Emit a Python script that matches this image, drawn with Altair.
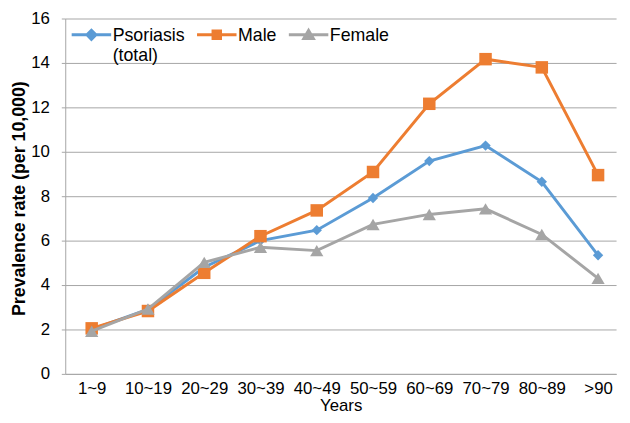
import altair as alt
import pandas as pd

ages = ["1~9", "10~19", "20~29", "30~39", "40~49", "50~59", "60~69", "70~79", "80~89", ">90"]
series_names = ["Psoriasis (total)", "Male", "Female"]
psoriasis = [2.0, 2.9, 4.8, 6.0, 6.47, 7.92, 9.58, 10.28, 8.65, 5.34]
male = [2.05, 2.83, 4.55, 6.2, 7.36, 9.09, 12.16, 14.17, 13.8, 8.95]
female = [1.92, 2.92, 5.02, 5.7, 5.55, 6.73, 7.18, 7.43, 6.28, 4.3]
colors = ["#5B9BD5", "#ED7D31", "#A5A5A5"]
shapes = ["diamond", "square", "triangle-up"]
sizes = [110, 160, 180]
legend_paths = [
    "M-2,0.78H2M0,0.33L0.45,0.78L0,1.23L-0.45,0.78Z",
    "M-2,0.78H2M-0.38,0.4H0.38V1.16H-0.38Z",
    "M-2,0.78H2M0,0.33L0.48,1.15H-0.48Z",
]

rows = []
for name, vals in zip(series_names, [psoriasis, male, female]):
    for i, (a, v) in enumerate(zip(ages, vals)):
        rows.append({"series": name, "idx": i, "age": a, "value": v})
df = pd.DataFrame(rows)

FONT = "Liberation Sans"
GRID = "#a6a6a6"
label_expr = "[" + ",".join("'%s'" % a for a in ages) + "][datum.value]"

x = alt.X(
    "idx:Q",
    scale=alt.Scale(domain=[-0.47, 9.32], nice=False, zero=False),
    axis=alt.Axis(
        values=list(range(10)), labelExpr=label_expr, title="Years", grid=False,
        ticks=False, domainColor=GRID, labelFontSize=17, titleFontSize=17,
        labelPadding=7, titlePadding=1, titleFontWeight="normal",
    ),
)
y = alt.Y(
    "value:Q",
    scale=alt.Scale(domain=[0, 16], nice=False),
    axis=alt.Axis(
        values=list(range(0, 17, 2)), title="Prevalence rate (per 10,000)",
        titleFontSize=18, titleFontWeight="bold", labelFontSize=17,
        gridColor=GRID, domainColor=GRID, tickColor=GRID, tickSize=4,
        labelPadding=12, titleX=-37, titleY=182,
    ),
)

layers = []
for name, c, s, sz in zip(series_names, colors, shapes, sizes):
    base = alt.Chart(df).transform_filter(alt.datum.series == name)
    layers.append(base.mark_line(color=c, strokeWidth=3).encode(x=x, y=y))
    layers.append(
        base.mark_point(shape=s, filled=True, size=sz, color=c, opacity=1).encode(x=x, y=y)
    )

label_legend = "datum.label == 'Psoriasis (total)' ? ['Psoriasis', '(total)'] : [datum.label, '']"
leg = alt.Legend(
    title=None, orient="none", legendX=15, legendY=-3, direction="horizontal",
    symbolSize=400, symbolStrokeWidth=3, symbolOpacity=1, labelFontSize=18, labelFont=FONT,
    labelColor="black", labelOffset=10, columnPadding=5, labelBaseline="top",
    labelExpr=label_legend,
)
legend_layer = (
    alt.Chart(df)
    .transform_filter("false")
    .mark_point(filled=True, strokeWidth=3)
    .encode(
        x=x, y=y,
        fill=alt.Fill("series:N", scale=alt.Scale(domain=series_names, range=colors), legend=leg),
        stroke=alt.Stroke("series:N", scale=alt.Scale(domain=series_names, range=colors), legend=leg),
        shape=alt.Shape("series:N", scale=alt.Scale(domain=series_names, range=legend_paths), legend=leg),
    )
)
layers.append(legend_layer)

chart = (
    alt.layer(*layers)
    .properties(
        width=558, height=360,
        autosize=alt.AutoSizeParams(type="none"),
        padding={"left": 58, "top": 8, "right": 6, "bottom": 39},
    )
    .configure_view(stroke=None)
    .configure_axis(labelFont=FONT, titleFont=FONT, labelColor="black", titleColor="black")
    .configure_legend(labelFont=FONT)
)
chart.save("out.html", embed_options={"renderer": "svg", "actions": False})
